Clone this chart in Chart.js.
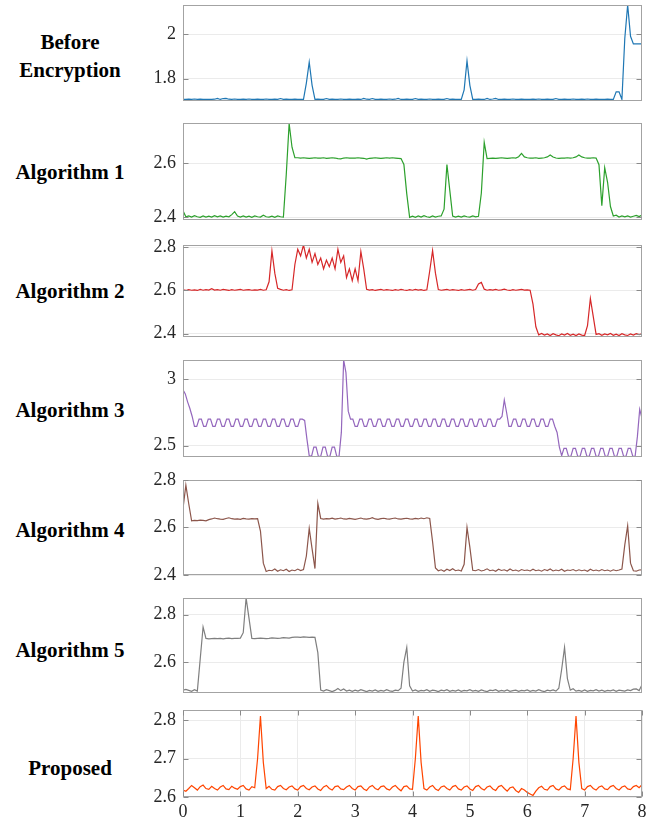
<!DOCTYPE html>
<html>
<head>
<meta charset="utf-8">
<script src="https://cdn.jsdelivr.net/npm/chart.js@4.4.1/dist/chart.umd.min.js"></script>
<style>
  body { margin: 0; background: #fff; width: 660px; height: 825px; position: relative; overflow: hidden; }
  canvas { position: absolute; left: 0; }
  .lbl { position: absolute; left: 0; width: 140px; text-align: center; white-space: pre-line;
         font: bold 21px "Liberation Serif", "Times New Roman", serif; color: #000; line-height: 28px;
         transform: translateY(-50%); }
</style>
</head>
<body>
<script>
// sampling grids (x positions of the samples)
const t05 = [];
for (let i = 0; i <= 160; i++) t05.push(+(i * 0.05).toFixed(2));
const t04 = [];
for (let i = 0; i <= 200; i++) t04.push(+(i * 0.04).toFixed(2));

// series values
const beforeEnc = [
  1.707,1.707,1.708,1.707,1.709,1.707,1.708,1.707,1.707,1.707,1.707,1.708,1.712,1.707,1.711,1.712,1.708,1.707,1.709,1.707,
  1.707,1.708,1.707,1.709,1.707,1.707,1.708,1.707,1.707,1.709,1.707,1.707,1.708,1.707,1.711,1.707,1.708,1.707,1.707,1.708,
  1.707,1.707,1.707,1.78,1.874,1.77,1.707,1.708,1.707,1.707,1.711,1.707,1.708,1.707,1.707,1.709,1.707,1.707,1.708,1.707,
  1.707,1.708,1.707,1.712,1.708,1.707,1.711,1.707,1.707,1.708,1.707,1.707,1.709,1.707,1.708,1.712,1.707,1.707,1.708,1.707,
  1.707,1.711,1.707,1.708,1.707,1.707,1.709,1.707,1.707,1.708,1.707,1.707,1.711,1.707,1.708,1.707,1.707,1.707,1.75,1.88,
  1.77,1.707,1.707,1.708,1.707,1.707,1.712,1.707,1.709,1.712,1.707,1.707,1.708,1.707,1.707,1.709,1.707,1.707,1.708,1.707,
  1.707,1.707,1.708,1.707,1.709,1.707,1.707,1.708,1.707,1.707,1.711,1.707,1.707,1.708,1.707,1.707,1.709,1.707,1.707,1.708,
  1.707,1.709,1.707,1.707,1.708,1.707,1.707,1.707,1.708,1.707,1.707,1.741,1.741,1.707,1.98,2.13,1.99,1.956,1.956,1.956,
  1.956
];
const alg1 = [
  2.424,2.402,2.405,2.401,2.406,2.402,2.400,2.405,2.401,2.404,2.401,2.406,2.402,2.405,2.401,2.404,2.402,2.410,2.421,2.405,
  2.401,2.405,2.401,2.404,2.400,2.405,2.402,2.401,2.408,2.402,2.401,2.404,2.400,2.405,2.402,2.401,2.56,2.748,2.66,2.621,
  2.621,2.620,2.621,2.620,2.619,2.620,2.621,2.620,2.620,2.621,2.619,2.620,2.621,2.620,2.618,2.617,2.620,2.621,2.620,2.620,
  2.620,2.621,2.620,2.619,2.616,2.619,2.620,2.621,2.620,2.619,2.620,2.621,2.620,2.621,2.620,2.619,2.618,2.596,2.487,2.400,
  2.404,2.400,2.405,2.401,2.406,2.402,2.400,2.405,2.401,2.404,2.405,2.43,2.596,2.50,2.405,2.401,2.404,2.401,2.405,2.402,
  2.401,2.405,2.402,2.404,2.49,2.678,2.618,2.619,2.620,2.619,2.620,2.621,2.620,2.619,2.620,2.621,2.620,2.625,2.637,2.624,
  2.621,2.620,2.620,2.621,2.619,2.620,2.621,2.624,2.631,2.624,2.620,2.619,2.620,2.620,2.621,2.620,2.621,2.624,2.631,2.624,
  2.621,2.620,2.620,2.621,2.620,2.595,2.443,2.584,2.53,2.44,2.405,2.408,2.401,2.405,2.402,2.405,2.401,2.404,2.407,2.403,
  2.408
];
const alg2 = [
  2.603,2.600,2.604,2.601,2.603,2.600,2.605,2.601,2.604,2.602,2.608,2.602,2.604,2.601,2.605,2.603,2.600,2.604,2.601,2.603,
  2.605,2.601,2.603,2.604,2.601,2.603,2.602,2.605,2.601,2.603,2.64,2.783,2.68,2.61,2.605,2.601,2.604,2.600,2.603,2.72,
  2.79,2.76,2.81,2.75,2.79,2.73,2.77,2.72,2.75,2.70,2.74,2.71,2.75,2.70,2.79,2.73,2.76,2.66,2.70,2.645,
  2.70,2.645,2.78,2.70,2.605,2.602,2.604,2.600,2.603,2.605,2.601,2.604,2.602,2.600,2.604,2.601,2.605,2.602,2.600,2.604,
  2.601,2.605,2.602,2.604,2.600,2.603,2.69,2.784,2.68,2.604,2.601,2.603,2.605,2.601,2.604,2.602,2.600,2.604,2.601,2.603,
  2.605,2.601,2.604,2.630,2.637,2.606,2.601,2.604,2.602,2.605,2.601,2.603,2.606,2.602,2.600,2.604,2.601,2.603,2.605,2.602,
  2.603,2.601,2.537,2.432,2.395,2.401,2.394,2.399,2.392,2.400,2.395,2.391,2.399,2.394,2.401,2.393,2.398,2.392,2.399,2.394,
  2.392,2.437,2.563,2.48,2.397,2.400,2.393,2.399,2.395,2.401,2.393,2.398,2.392,2.400,2.395,2.392,2.399,2.394,2.400,2.396,
  2.400
];
const alg3 = [
  2.92,2.89,2.83,2.78,2.72,2.645,2.645,2.70,2.70,2.645,2.645,2.70,2.70,2.645,2.645,2.70,2.70,2.645,2.645,2.70,2.70,2.645,2.645,2.70,2.70,
  2.645,2.645,2.70,2.70,2.645,2.645,2.70,2.70,2.645,2.645,2.70,2.70,2.645,2.645,2.70,2.70,2.645,2.645,2.70,2.70,2.645,2.645,2.70,2.70,2.645,
  2.645,2.70,2.70,2.69,2.55,2.425,2.42,2.49,2.49,2.42,2.42,2.49,2.49,2.42,2.42,2.49,2.49,2.42,2.42,2.60,3.145,3.05,2.76,2.70,2.70,
  2.645,2.645,2.70,2.70,2.645,2.645,2.70,2.70,2.645,2.645,2.70,2.70,2.645,2.645,2.70,2.70,2.645,2.645,2.70,2.70,2.645,2.645,2.70,2.70,2.645,
  2.645,2.70,2.70,2.645,2.645,2.70,2.70,2.645,2.645,2.70,2.70,2.645,2.645,2.70,2.70,2.645,2.645,2.70,2.70,2.645,2.645,2.70,2.70,2.645,2.645,
  2.70,2.70,2.645,2.645,2.70,2.70,2.645,2.645,2.70,2.70,2.645,2.645,2.70,2.70,2.72,2.844,2.75,2.645,2.645,2.70,2.70,2.645,2.645,2.70,2.70,
  2.645,2.645,2.70,2.70,2.645,2.645,2.70,2.70,2.645,2.645,2.70,2.70,2.645,2.60,2.49,2.425,2.48,2.48,2.42,2.42,2.48,2.48,2.42,2.42,2.48,
  2.48,2.42,2.42,2.48,2.48,2.42,2.42,2.48,2.48,2.42,2.42,2.48,2.48,2.42,2.42,2.48,2.48,2.42,2.42,2.48,2.48,2.42,2.42,2.57,2.774,
  2.706
];
const alg4 = [
  2.68,2.778,2.70,2.628,2.630,2.629,2.631,2.630,2.628,2.633,2.636,2.640,2.637,2.635,2.634,2.638,2.641,2.637,2.635,2.636,
  2.634,2.638,2.636,2.635,2.637,2.636,2.637,2.585,2.45,2.415,2.420,2.418,2.425,2.416,2.422,2.418,2.424,2.415,2.421,2.418,
  2.425,2.419,2.423,2.48,2.596,2.51,2.427,2.701,2.638,2.635,2.637,2.636,2.639,2.635,2.637,2.640,2.636,2.635,2.638,2.636,
  2.634,2.637,2.640,2.636,2.635,2.637,2.641,2.636,2.634,2.637,2.639,2.636,2.635,2.638,2.640,2.636,2.635,2.637,2.639,2.636,
  2.635,2.638,2.636,2.640,2.637,2.641,2.638,2.54,2.43,2.418,2.422,2.416,2.424,2.419,2.426,2.418,2.421,2.417,2.445,2.60,
  2.516,2.420,2.418,2.423,2.417,2.420,2.426,2.418,2.421,2.416,2.424,2.419,2.422,2.417,2.425,2.418,2.421,2.416,2.423,2.419,
  2.421,2.417,2.424,2.418,2.421,2.416,2.423,2.419,2.425,2.417,2.421,2.418,2.424,2.416,2.421,2.419,2.423,2.417,2.422,2.418,
  2.421,2.416,2.424,2.418,2.421,2.417,2.423,2.418,2.421,2.416,2.422,2.418,2.421,2.425,2.527,2.607,2.45,2.418,2.416,2.421,
  2.422
];
const alg5 = [
  2.482,2.485,2.481,2.477,2.484,2.478,2.613,2.748,2.70,2.698,2.699,2.700,2.699,2.700,2.698,2.700,2.701,2.699,2.700,2.700,
  2.701,2.724,2.87,2.785,2.700,2.699,2.700,2.701,2.700,2.699,2.700,2.702,2.701,2.700,2.701,2.703,2.702,2.701,2.704,2.705,
  2.705,2.704,2.706,2.705,2.704,2.705,2.704,2.64,2.482,2.478,2.484,2.480,2.476,2.481,2.489,2.480,2.487,2.478,2.482,2.477,
  2.482,2.478,2.484,2.480,2.476,2.481,2.478,2.483,2.477,2.481,2.478,2.484,2.479,2.477,2.482,2.480,2.49,2.60,2.662,2.50,
  2.478,2.483,2.477,2.481,2.479,2.484,2.477,2.482,2.480,2.476,2.482,2.479,2.484,2.477,2.481,2.478,2.483,2.477,2.481,2.479,
  2.484,2.478,2.481,2.477,2.483,2.479,2.476,2.482,2.480,2.484,2.477,2.481,2.478,2.483,2.477,2.480,2.482,2.477,2.481,2.479,
  2.483,2.477,2.481,2.478,2.484,2.479,2.476,2.482,2.479,2.483,2.478,2.49,2.57,2.662,2.53,2.482,2.488,2.478,2.481,2.477,
  2.483,2.477,2.481,2.479,2.484,2.478,2.482,2.477,2.481,2.479,2.483,2.477,2.482,2.480,2.478,2.483,2.480,2.486,2.487,2.480,
  2.505
];
const proposed = [
  2.618,2.615,2.622,2.630,2.624,2.618,2.627,2.631,2.622,2.620,2.628,2.622,2.618,2.626,2.630,2.621,2.619,2.628,2.623,2.620,
  2.627,2.630,2.621,2.618,2.627,2.624,2.70,2.81,2.69,2.622,2.628,2.620,2.618,2.627,2.630,2.622,2.619,2.626,2.629,2.621,
  2.618,2.627,2.630,2.622,2.619,2.626,2.629,2.621,2.617,2.626,2.630,2.622,2.618,2.627,2.629,2.621,2.619,2.626,2.630,2.622,
  2.618,2.627,2.629,2.621,2.617,2.626,2.630,2.622,2.619,2.627,2.629,2.621,2.618,2.626,2.630,2.622,2.616,2.627,2.629,2.621,
  2.620,2.70,2.81,2.69,2.622,2.618,2.626,2.630,2.621,2.617,2.626,2.629,2.622,2.618,2.627,2.630,2.621,2.618,2.626,2.629,
  2.621,2.617,2.627,2.630,2.622,2.618,2.626,2.629,2.621,2.617,2.627,2.630,2.622,2.615,2.624,2.626,2.617,2.612,2.622,2.618,
  2.612,2.608,2.604,2.615,2.624,2.628,2.620,2.618,2.627,2.630,2.621,2.618,2.626,2.629,2.621,2.619,2.70,2.81,2.69,2.622,
  2.618,2.627,2.630,2.622,2.618,2.626,2.629,2.621,2.619,2.627,2.630,2.622,2.618,2.626,2.629,2.621,2.619,2.627,2.630,2.624,
  2.632
];

// axis ticks
const xTicks = [0, 1, 2, 3, 4, 5, 6, 7, 8];
const ticksBefore = [1.8, 2];
const ticksAlg1 = [2.4, 2.6];
const ticksAlg2 = [2.4, 2.6, 2.8];
const ticksAlg3 = [2.5, 3];
const ticksAlg4 = [2.4, 2.6, 2.8];
const ticksAlg5 = [2.6, 2.8];
const ticksProp = [2.6, 2.7, 2.8];

const panels = [
  { name: 'Before\nEncryption', t: t05, v: beforeEnc, color: '#1f77b4', yt: ticksBefore, min: 1.70, max: 2.13, top: 5, bottom: 101, ly: 56 },
  { name: 'Algorithm 1', t: t05, v: alg1, color: '#2ca02c', yt: ticksAlg1, min: 2.39, max: 2.75, top: 123, bottom: 220, ly: 172 },
  { name: 'Algorithm 2', t: t05, v: alg2, color: '#d62728', yt: ticksAlg2, min: 2.385, max: 2.81, top: 245, bottom: 337, ly: 291 },
  { name: 'Algorithm 3', t: t04, v: alg3, color: '#9467bd', yt: ticksAlg3, min: 2.415, max: 3.145, top: 360, bottom: 457, ly: 410 },
  { name: 'Algorithm 4', t: t05, v: alg4, color: '#8c564b', yt: ticksAlg4, min: 2.40, max: 2.80, top: 480, bottom: 575, ly: 530 },
  { name: 'Algorithm 5', t: t05, v: alg5, color: '#7f7f7f', yt: ticksAlg5, min: 2.47, max: 2.87, top: 598, bottom: 693, ly: 650 },
  { name: 'Proposed', t: t05, v: proposed, color: '#ff4500', yt: ticksProp, min: 2.60, max: 2.826, top: 710, bottom: 797, ly: 768, last: true }
];

const SERIF = '"Liberation Serif", "Times New Roman", serif';
const PAD = 20; // larger than the padding Chart.js asks for the y tick labels

// box round the plot and MATLAB-like inward ticks
const frame = {
  id: 'frame',
  afterDatasetsDraw(chart) {
    const { ctx, chartArea: a, scales } = chart;
    const l = Math.round(a.left) + 0.5, r = Math.round(a.right) - 0.5;
    const t = Math.round(a.top) + 0.5, b = Math.round(a.bottom) - 0.5;
    ctx.save();
    ctx.lineWidth = 1;
    ctx.strokeStyle = '#a3a3a3';
    ctx.strokeRect(l, t, r - l, b - t);
    ctx.strokeStyle = '#8a8a8a';
    ctx.beginPath();
    scales.y.ticks.forEach(tk => {
      const y = Math.round(scales.y.getPixelForValue(tk.value)) + 0.5;
      ctx.moveTo(l, y); ctx.lineTo(l + 5, y);
      ctx.moveTo(r - 5, y); ctx.lineTo(r, y);
    });
    if (chart.options.scales.x.display) {
      scales.x.ticks.forEach(tk => {
        const x = Math.round(scales.x.getPixelForValue(tk.value)) + 0.5;
        ctx.moveTo(x, b); ctx.lineTo(x, b - 5);
        ctx.moveTo(x, t); ctx.lineTo(x, t + 5);
      });
    }
    ctx.stroke();
    ctx.restore();
  }
};

panels.forEach(p => {
  const lbl = document.createElement('div');
  lbl.className = 'lbl';
  lbl.textContent = p.name;
  lbl.style.top = p.ly + 'px';
  document.body.appendChild(lbl);

  const cv = document.createElement('canvas');
  const top = p.top - PAD;
  const h = p.last ? 825 - top : (p.bottom - p.top) + 2 * PAD;
  cv.width = 660; cv.height = h;
  cv.style.top = top + 'px';
  document.body.appendChild(cv);

  new Chart(cv.getContext('2d'), {
    type: 'line',
    data: {
      datasets: [{
        data: p.v.map((y, i) => ({ x: p.t[i], y })),
        borderColor: p.color,
        borderWidth: 1.2,
        pointRadius: 0,
        tension: 0,
        fill: false
      }]
    },
    options: {
      responsive: false,
      animation: false,
      devicePixelRatio: 1,
      layout: { padding: { top: PAD, bottom: p.last ? 0 : PAD, left: 0, right: 18 } },
      plugins: { legend: { display: false }, tooltip: { enabled: false } },
      scales: {
        x: {
          type: 'linear',
          min: 0, max: 8,
          display: !!p.last,
          afterBuildTicks: s => { s.ticks = xTicks.map(v => ({ value: v })); },
          afterFit: s => { s.height = p.last ? 28 : 0; },
          grid: { color: '#ebebeb', drawTicks: false },
          border: { display: false },
          ticks: { color: '#262626', font: { family: SERIF, size: 18 }, padding: 4, maxRotation: 0 }
        },
        y: {
          min: p.min, max: p.max,
          afterBuildTicks: s => { s.ticks = p.yt.map(v => ({ value: v })); },
          afterFit: s => { s.width = 183; },
          grid: { color: '#ebebeb', drawTicks: false },
          border: { display: false },
          ticks: { color: '#262626', font: { family: SERIF, size: 18 }, padding: 7, callback: v => String(v) }
        }
      }
    },
    plugins: [frame]
  });
});
</script>
</body>
</html>
